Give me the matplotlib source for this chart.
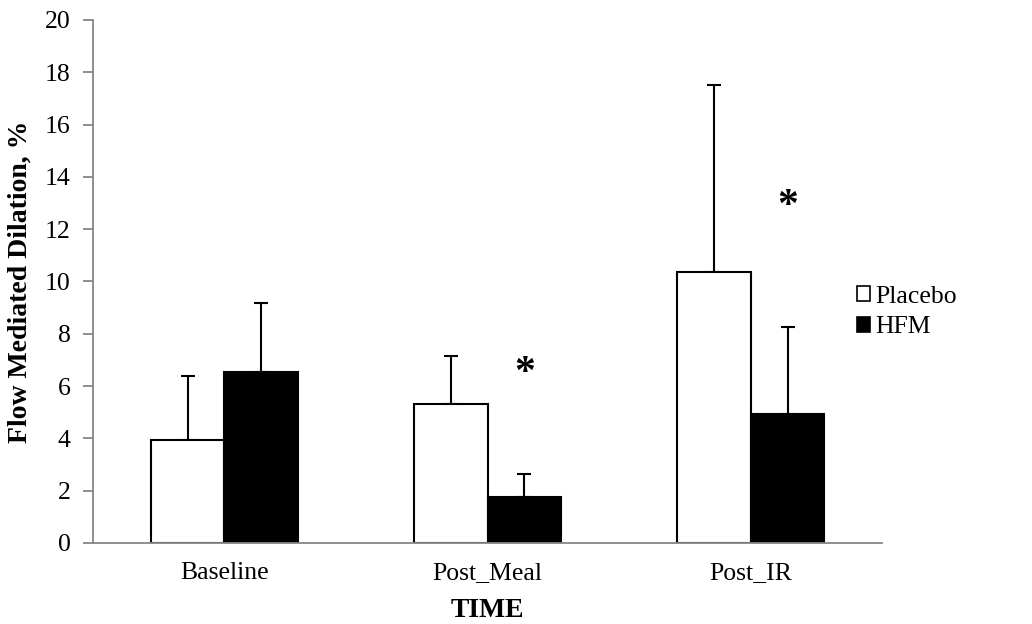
import numpy as np
import matplotlib
matplotlib.use("Agg")
import matplotlib.pyplot as plt

plt.rcParams['font.family'] = ['Liberation Serif', 'DejaVu Serif']

# data
categories = ['Baseline', 'Post_Meal', 'Post_IR']
placebo = [3.95, 5.30, 10.35]
placebo_err = [2.42, 1.86, 7.17]
hfm = [6.55, 1.75, 4.92]
hfm_err = [2.63, 0.90, 3.35]
star_y = [np.nan, 6.45, 12.85]   # significance markers above HFM bars

fig = plt.figure(figsize=(10.32, 6.24), dpi=100)
ax = fig.add_axes([0.090, 0.130, 0.765, 0.838])

x = np.arange(len(categories))
w = 0.28

ax.bar(x - w / 2, placebo, w, color='white', edgecolor='black', linewidth=1.5,
       label='Placebo', zorder=2)
ax.bar(x + w / 2, hfm, w, color='black', edgecolor='black', linewidth=1.5,
       label='HFM', zorder=2)

ax.errorbar(x - w / 2, placebo, yerr=[np.zeros(3), placebo_err], fmt='none',
            ecolor='black', elinewidth=1.5, capsize=5, capthick=1.5, zorder=1)
ax.errorbar(x + w / 2, hfm, yerr=[np.zeros(3), hfm_err], fmt='none',
            ecolor='black', elinewidth=1.5, capsize=5, capthick=1.5, zorder=1)

for xi, yi in zip(x + w / 2, star_y):
    if not np.isnan(yi):
        ax.text(xi, yi, '*', ha='center', va='center', fontsize=30,
                fontweight='bold', color='black')

ax.set_xlim(-0.5, len(categories) - 0.5)
ax.set_ylim(0, 20)
ax.set_yticks(np.arange(0, 21, 2))
ax.set_xticks(x)
ax.set_xticklabels(categories)

for s in ['top', 'right']:
    ax.spines[s].set_visible(False)
for s in ['left', 'bottom']:
    ax.spines[s].set_color('#868686')
    ax.spines[s].set_linewidth(1.3)

ax.tick_params(axis='y', colors='#868686', labelcolor='black', length=7,
               width=1.3, labelsize=18.5, pad=9)
ax.tick_params(axis='x', length=0, labelsize=18.5, pad=14)

ax.set_ylabel('Flow Mediated Dilation, %', fontsize=20, fontweight='bold',
              labelpad=9)
ax.set_xlabel('TIME', fontsize=20, fontweight='bold', labelpad=10)

leg = fig.legend(loc='center left', bbox_to_anchor=(0.808, 0.50), frameon=False,
                 fontsize=18.5, handlelength=0.5, handleheight=0.5,
                 handletextpad=0.2, labelspacing=0.35)
for p in leg.get_patches():
    p.set_linewidth(1.2)

fig.savefig('out.png', dpi=100)
